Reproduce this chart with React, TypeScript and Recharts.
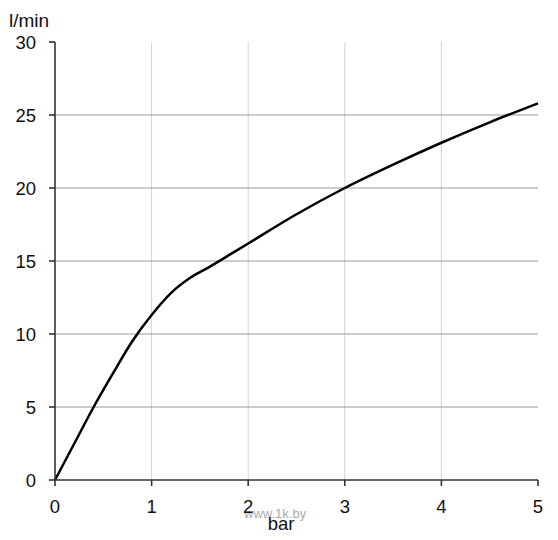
import { LineChart, Line, XAxis, YAxis, ReferenceLine } from 'recharts';

const pressure = [0, 0.2, 0.4, 0.6, 0.8, 1, 1.2, 1.4, 1.6, 1.8, 2, 2.5, 3, 3.5, 4, 4.5, 5];
const flow = [0, 2.5, 5, 7.3, 9.5, 11.3, 12.8, 13.85, 14.6, 15.4, 16.2, 18.2, 20.0, 21.6, 23.1, 24.5, 25.8];

const xTicks = [0, 1, 2, 3, 4, 5];
const yTicks = [0, 5, 10, 15, 20, 25, 30];
const hLines = [5, 10, 15, 20, 25];
const vLines = [1, 2, 3, 4];

const data = pressure.map((p, i) => ({ bar: p, lmin: flow[i] }));

const font = 'Arial, "Liberation Sans", sans-serif';

export default function App() {
  return (
    <div style={{ position: 'absolute', left: 0, top: 0, width: 558, height: 540, background: '#fff', fontFamily: font }}>
      <LineChart
        width={558}
        height={540}
        data={data}
        margin={{ top: 42, right: 20, bottom: 30, left: 5 }}
      >
        {vLines.map((v) => (
          <ReferenceLine key={'v' + v} x={v} stroke="#d2d2d2" strokeWidth={1} />
        ))}
        {hLines.map((v) => (
          <ReferenceLine key={'h' + v} y={v} stroke="#9a9a9a" strokeWidth={1.2} />
        ))}
        <XAxis
          dataKey="bar"
          type="number"
          domain={[0, 5]}
          ticks={xTicks}
          height={30}
          tickSize={6}
          tickMargin={14}
          tick={{ fill: '#111', fontSize: 18.5, fontFamily: font }}
          axisLine={{ stroke: '#333', strokeWidth: 1.6 }}
          tickLine={{ stroke: '#333', strokeWidth: 1.6 }}
        />
        <YAxis
          type="number"
          domain={[0, 30]}
          ticks={yTicks}
          width={50}
          tickSize={6}
          tickMargin={13}
          tick={{ fill: '#111', fontSize: 18.5, fontFamily: font }}
          axisLine={{ stroke: '#333', strokeWidth: 1.6 }}
          tickLine={{ stroke: '#333', strokeWidth: 1.6 }}
        />
        <Line
          type="monotone"
          dataKey="lmin"
          stroke="#000"
          strokeWidth={2.5}
          dot={false}
          isAnimationActive={false}
        />
        <text x={9} y={27} fontSize={19} fill="#111" fontFamily={font}>l/min</text>
        <text x={244} y={518} fontSize={13} fill="#aaa" fontFamily={font}>www.1k.by</text>
        <text x={281} y={530} fontSize={18.5} fill="#111" fontFamily={font} textAnchor="middle">bar</text>
      </LineChart>
    </div>
  );
}
